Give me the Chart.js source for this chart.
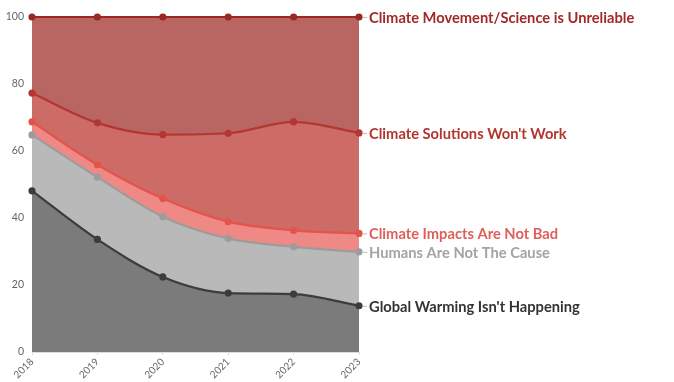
<!DOCTYPE html>
<html>
<head>
<meta charset="utf-8">
<script src="https://cdn.jsdelivr.net/npm/chart.js@4.4.1/dist/chart.umd.min.js"></script>
<style>
  html, body { margin: 0; padding: 0; background: #fff; }
  #wrap { width: 674px; height: 382px; position: relative; }
</style>
</head>
<body>
<div id="wrap"><canvas id="c" width="674" height="382"></canvas></div>
<script>
// Categories (years)
const years = ['2018', '2019', '2020', '2021', '2022', '2023'];
// Cumulative (stacked) top edges of each band, in percent
const globalWarmingIsntHappening = [48.1, 33.6, 22.4, 17.6, 17.3, 13.8];
const humansAreNotTheCause       = [64.8, 52.2, 40.4, 33.9, 31.4, 29.9];
const climateImpactsAreNotBad    = [68.7, 55.9, 45.8, 38.9, 36.3, 35.4];
const climateSolutionsWontWork   = [77.3, 68.4, 64.9, 65.3, 68.7, 65.4];
const climateMovementUnreliable  = [100, 100, 100, 100, 100, 100];
// Series labels
const seriesLabels = [
  "Global Warming Isn't Happening",
  "Humans Are Not The Cause",
  "Climate Impacts Are Not Bad",
  "Climate Solutions Won't Work",
  "Climate Movement/Science is Unreliable"
];
// Y tick values
const yTicks = [0, 20, 40, 60, 80, 100];

const styles = [
  { line: '#3c3c3c', fill: '#7b7b7b', text: '#333333' },
  { line: '#9c9c9c', fill: '#b9b9b9', text: '#a3a3a3' },
  { line: '#e4534c', fill: '#ef8985', text: '#df5f59' },
  { line: '#b43632', fill: '#cd6c67', text: '#b1362f' },
  { line: '#9b2824', fill: '#b96662', text: '#a0292a' }
];
const seriesData = [globalWarmingIsntHappening, humansAreNotTheCause, climateImpactsAreNotBad, climateSolutionsWontWork, climateMovementUnreliable];

const datasets = seriesData.map((d, i) => ({
  label: seriesLabels[i],
  data: d,
  borderColor: styles[i].line,
  backgroundColor: styles[i].fill,
  pointBackgroundColor: styles[i].line,
  pointBorderColor: styles[i].line,
  pointRadius: 2.5,
  pointHoverRadius: 2.5,
  borderWidth: 2.2,
  fill: i === 0 ? 'origin' : '-1',
  cubicInterpolationMode: 'monotone',
  clip: false,
  order: i
}));

const endLabels = {
  id: 'endLabels',
  afterDatasetsDraw(chart) {
    const ctx = chart.ctx;
    ctx.save();
    ctx.font = 'bold 14.7px Lato';
    ctx.textBaseline = 'middle';
    ctx.textAlign = 'left';
    chart.data.datasets.forEach((ds, i) => {
      const meta = chart.getDatasetMeta(i);
      const pt = meta.data[meta.data.length - 1];
      ctx.strokeStyle = '#bbbbbb';
      ctx.lineWidth = 1;
      ctx.beginPath();
      ctx.moveTo(pt.x + 4, pt.y + 0.5);
      ctx.lineTo(pt.x + 8, pt.y + 0.5);
      ctx.stroke();
      ctx.fillStyle = styles[i].text;
      ctx.fillText(ds.label, pt.x + 10, pt.y + 1);
    });
    ctx.restore();
  }
};

new Chart(document.getElementById('c'), {
  type: 'line',
  data: { labels: years, datasets },
  plugins: [endLabels],
  options: {
    responsive: false,
    animation: false,
    events: [],
    layout: { padding: { top: 17, right: 315, left: 0, bottom: 0 } },
    plugins: { legend: { display: false }, tooltip: { enabled: false } },
    scales: {
      x: {
        offset: false,
        grid: { display: true, drawOnChartArea: false, drawTicks: true, tickLength: 3, color: '#dddddd' },
        border: { display: true, color: '#dddddd' },
        ticks: { color: '#666', font: { family: 'Lato', size: 10 }, maxRotation: 45, minRotation: 45, padding: 1 },
        afterFit(scale) { scale.height = 30; }
      },
      y: {
        min: 0, max: 100,
        afterBuildTicks(scale) { scale.ticks = yTicks.map(v => ({ value: v })); },
        grid: { color: 'rgba(0,0,0,0.07)', drawTicks: false },
        border: { display: false },
        ticks: { color: '#666', font: { family: 'Lato', size: 10.5 }, padding: 8 },
        afterFit(scale) { scale.width = 32; }
      }
    }
  }
});
</script>
</body>
</html>
